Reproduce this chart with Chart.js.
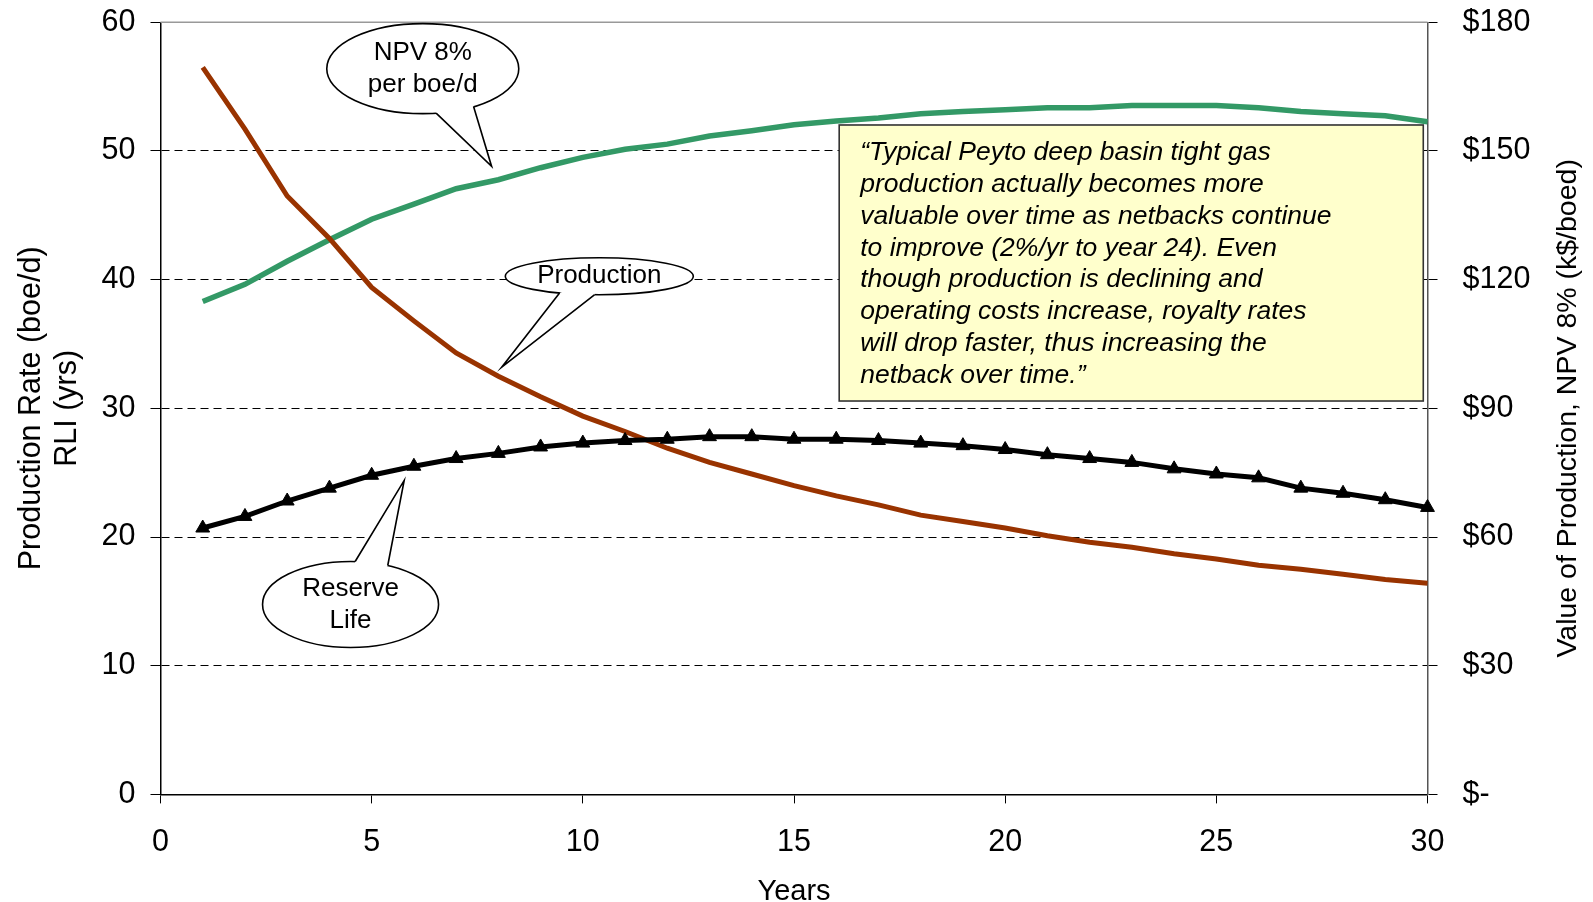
<!DOCTYPE html>
<html>
<head>
<meta charset="utf-8">
<title>Peyto typical well economics</title>
<script src="https://cdn.jsdelivr.net/npm/chart.js@4.4.1/dist/chart.umd.min.js"></script>
<style>
    body { margin: 0; background: #fff; }
    canvas { display: block; }
</style>
</head>
<body>
<canvas id="chart" width="1593" height="902"></canvas>
<script>
// values
const years = [1, 2, 3, 4, 5, 6, 7, 8, 9, 10, 11, 12, 13, 14, 15, 16, 17, 18, 19, 20, 21, 22, 23, 24, 25, 26, 27, 28, 29, 30];
const production = [56.5, 51.7, 46.5, 43.2, 39.4, 36.8, 34.3, 32.5, 30.9, 29.4, 28.2, 26.9, 25.8, 24.9, 24.0, 23.2, 22.5, 21.7, 21.2, 20.7, 20.1, 19.6, 19.2, 18.7, 18.3, 17.8, 17.5, 17.1, 16.7, 16.4];
const reserveLife = [20.7, 21.6, 22.8, 23.8, 24.8, 25.5, 26.1, 26.5, 27.0, 27.3, 27.5, 27.6, 27.8, 27.8, 27.6, 27.6, 27.5, 27.3, 27.1, 26.8, 26.4, 26.1, 25.8, 25.3, 24.9, 24.6, 23.8, 23.4, 22.9, 22.3];
const npvPerBoe = [114.9, 118.9, 124.3, 129.3, 134.1, 137.6, 141.2, 143.3, 146.1, 148.5, 150.4, 151.6, 153.5, 154.7, 156.1, 157.0, 157.7, 158.7, 159.2, 159.6, 160.1, 160.1, 160.6, 160.6, 160.6, 160.1, 159.2, 158.7, 158.2, 156.8];
const rightTickLabels = ['$-', '$30', '$60', '$90', '$120', '$150', '$180'];

const noteLines = [
    '\u201cTypical Peyto deep basin tight gas',
    'production actually becomes more',
    'valuable over time as netbacks continue',
    'to improve (2%/yr to year 24). Even',
    'though production is declining and',
    'operating costs increase, royalty rates',
    'will drop faster, thus increasing the',
    'netback over time.\u201d'
];

// callouts: centre and tip in data units (years / left axis), radii in px, tail base angles in degrees
const callouts = [
    { lines: ['NPV 8%', 'per boe/d'], cx: 6.21, cy: 56.4, rx: 96, ry: 45, a1: 82, a2: 58, tx: 7.84, ty: 48.8 },
    { lines: ['Production'], cx: 10.39, cy: 40.26, rx: 94, ry: 18.5, a1: 115, a2: 93, tx: 8.08, ty: 33.2 },
    { lines: ['Reserve', 'Life'], cx: 4.50, cy: 14.76, rx: 88, ry: 43, a1: -87, a2: -65, tx: 5.77, ty: 24.4 }
];

const FONT = "'Liberation Sans', Arial, sans-serif";

function pts(vals) {
    return years.map((yr, i) => ({ x: yr, y: vals[i] }));
}

// keep the plot area where the original has it
function noPad(s) {
    s.paddingTop = 0;
    s.paddingBottom = 0;
    s.paddingLeft = 0;
    s.paddingRight = 0;
}

function drawCallout(ctx, xs, ys, c) {
    const cx = xs.getPixelForValue(c.cx);
    const cy = ys.getPixelForValue(c.cy);
    const tx = xs.getPixelForValue(c.tx);
    const ty = ys.getPixelForValue(c.ty);
    const on = (a, k) => [cx + c.rx * k * Math.cos(a * Math.PI / 180), cy + c.ry * k * Math.sin(a * Math.PI / 180)];
    const p1 = on(c.a1, 1), p2 = on(c.a2, 1);
    const q1 = on(c.a1, 0.8), q2 = on(c.a2, 0.8);
    ctx.save();
    ctx.lineWidth = 1.6;
    ctx.strokeStyle = '#000';
    ctx.fillStyle = '#fff';
    ctx.beginPath();
    ctx.ellipse(cx, cy, c.rx, c.ry, 0, 0, Math.PI * 2);
    ctx.fill();
    ctx.stroke();
    ctx.beginPath();
    ctx.moveTo(q1[0], q1[1]);
    ctx.lineTo(p1[0], p1[1]);
    ctx.lineTo(tx, ty);
    ctx.lineTo(p2[0], p2[1]);
    ctx.lineTo(q2[0], q2[1]);
    ctx.closePath();
    ctx.fill();
    ctx.beginPath();
    ctx.moveTo(p1[0], p1[1]);
    ctx.lineTo(tx, ty);
    ctx.lineTo(p2[0], p2[1]);
    ctx.stroke();
    ctx.fillStyle = '#000';
    ctx.font = '26px ' + FONT;
    ctx.textAlign = 'center';
    ctx.textBaseline = 'middle';
    const lh = 32;
    const y0 = cy - (c.lines.length - 1) * lh / 2;
    c.lines.forEach((t, i) => ctx.fillText(t, cx, y0 + i * lh));
    ctx.restore();
}

const overlay = {
    id: 'overlay',
    beforeDatasetsDraw(chart) {
        const { ctx, chartArea } = chart;
        ctx.save();
        ctx.strokeStyle = '#999';
        ctx.lineWidth = 1.5;
        ctx.beginPath();
        ctx.moveTo(chartArea.left, chartArea.top);
        ctx.lineTo(chartArea.right, chartArea.top);
        ctx.stroke();
        ctx.restore();
    },
    afterDatasetsDraw(chart) {
        const { ctx, chartArea } = chart;
        const xs = chart.scales.x, ys = chart.scales.y;
        callouts.forEach(c => drawCallout(ctx, xs, ys, c));

        // quote box
        const bx1 = xs.getPixelForValue(16.07), bx2 = xs.getPixelForValue(29.9);
        const by1 = ys.getPixelForValue(52.02), by2 = ys.getPixelForValue(30.57);
        ctx.save();
        ctx.fillStyle = '#ffffcc';
        ctx.strokeStyle = '#333';
        ctx.lineWidth = 1.6;
        ctx.fillRect(bx1, by1, bx2 - bx1, by2 - by1);
        ctx.strokeRect(bx1, by1, bx2 - bx1, by2 - by1);
        ctx.fillStyle = '#000';
        ctx.font = 'italic 26.5px ' + FONT;
        ctx.textAlign = 'left';
        ctx.textBaseline = 'middle';
        noteLines.forEach((t, i) => ctx.fillText(t, bx1 + 21, by1 + 27.5 + i * 31.9));
        ctx.restore();

        // right axis title, reading bottom to top
        ctx.save();
        ctx.translate(1568, (chartArea.top + chartArea.bottom) / 2);
        ctx.rotate(-Math.PI / 2);
        ctx.fillStyle = '#000';
        ctx.font = '28.5px ' + FONT;
        ctx.textAlign = 'center';
        ctx.textBaseline = 'middle';
        ctx.fillText('Value of Production, NPV 8% (k$/boed)', 0, 0);
        ctx.restore();
    }
};

new Chart(document.getElementById('chart').getContext('2d'), {
    type: 'line',
    data: {
        datasets: [
            {
                label: 'Reserve Life',
                data: pts(reserveLife),
                yAxisID: 'y',
                borderColor: '#000',
                backgroundColor: '#000',
                borderWidth: 5,
                pointStyle: 'triangle',
                pointRadius: 8,
                pointBorderWidth: 1,
                tension: 0,
                clip: false
            },
            {
                label: 'Production',
                data: pts(production),
                yAxisID: 'y',
                borderColor: '#993300',
                borderWidth: 5,
                pointRadius: 0,
                tension: 0,
                clip: false
            },
            {
                label: 'NPV 8% per boe/d',
                data: pts(npvPerBoe),
                yAxisID: 'y2',
                borderColor: '#339966',
                borderWidth: 5.5,
                pointRadius: 0,
                tension: 0,
                clip: false
            }
        ]
    },
    options: {
        responsive: false,
        animation: false,
        layout: { padding: { top: 22.3, left: 0, right: 0, bottom: 0 } },
        plugins: {
            legend: { display: false },
            tooltip: { enabled: false }
        },
        scales: {
            x: {
                type: 'linear',
                position: 'bottom',
                min: 0,
                max: 30,
                ticks: { stepSize: 5, color: '#000', font: { family: FONT, size: 30.5 }, padding: 21, maxRotation: 0 },
                grid: { drawOnChartArea: false, tickLength: 9, tickColor: '#000' },
                border: { color: '#000', width: 1.5 },
                title: { display: true, text: 'Years', color: '#000', font: { family: FONT, size: 29, lineHeight: 0.7 }, padding: { top: 0, bottom: 0 } },
                afterFit(s) { s.height = 107.6; noPad(s); }
            },
            y: {
                position: 'left',
                min: 0,
                max: 60,
                ticks: { stepSize: 10, color: '#000', font: { family: FONT, size: 30.5 }, padding: 15 },
                grid: {
                    color: c => (c.tick && (c.tick.value === 0 || c.tick.value === 60)) ? 'rgba(0,0,0,0)' : '#000',
                    lineWidth: 1,
                    tickLength: 10,
                    tickColor: '#000'
                },
                border: { color: '#000', width: 1.5, dash: [8, 5] },
                title: {
                    display: true,
                    text: ['Production Rate (boe/d)', 'RLI (yrs)'],
                    color: '#000',
                    font: { family: FONT, size: 30.5 },
                    padding: { top: 13, bottom: 0 }
                },
                afterFit(s) { s.width = 160.5; noPad(s); }
            },
            y2: {
                position: 'right',
                min: 0,
                max: 180,
                ticks: {
                    stepSize: 30,
                    color: '#000',
                    font: { family: FONT, size: 30.5 },
                    padding: 25,
                    callback: (v) => rightTickLabels[Math.round(v / 30)]
                },
                grid: { drawOnChartArea: false, tickLength: 10, tickColor: '#000' },
                border: { color: '#555', width: 1.5 },
                afterFit(s) { s.width = 165.5; noPad(s); }
            }
        }
    },
    plugins: [overlay]
});
</script>
</body>
</html>
